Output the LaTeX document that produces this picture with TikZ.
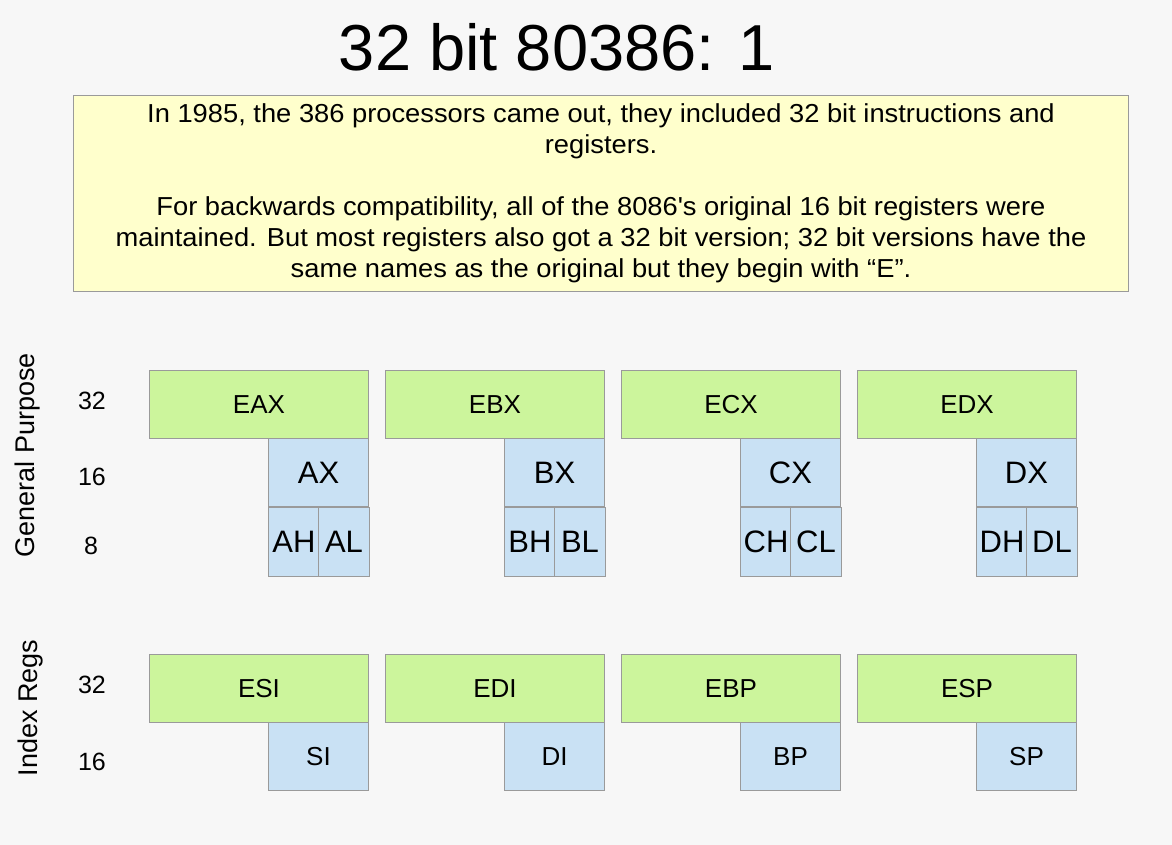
\documentclass[tikz,border=0pt]{standalone}
\usepackage{fontspec}
\setmainfont{Liberation Sans}
\newfontfamily\notefont[FakeStretch=1.05]{Liberation Sans}
\usepackage{xcolor}
\definecolor{regGreen}{HTML}{CCF59C}
\definecolor{regBlue}{HTML}{C9E1F4}
\definecolor{noteYellow}{HTML}{FFFFCC}
\definecolor{edgeGray}{HTML}{9A9A9A}
\definecolor{slideBg}{HTML}{F7F7F7}

\begin{document}
\begin{tikzpicture}[x=1pt, y=-1pt, line width=1pt,
  r32/.style = {draw=edgeGray, fill=regGreen, anchor=north west, inner sep=0pt, minimum width=219pt, minimum height=68pt, font=\fontsize{26}{30}\selectfont},
  r16/.style = {draw=edgeGray, fill=regBlue, anchor=north west, inner sep=0pt, minimum width=100pt, minimum height=68pt, font=\fontsize{31}{36}\selectfont},
  r8/.style = {r16, minimum width=51pt, minimum height=69pt},
  i16/.style = {r16, font=\fontsize{26}{30}\selectfont},
  bitlabel/.style = {font=\fontsize{25}{30}\selectfont},
  grouplabel/.style = {rotate=90, font=\fontsize{27}{30}\selectfont}]
  \useasboundingbox[fill=slideBg] (0,0) rectangle (1172,845);
  \node[font=\fontsize{65}{78}\selectfont] (title) at (557,47) {32 bit 80386: 1};
  \node[draw=edgeGray, fill=noteYellow, anchor=north west, minimum width=1055pt, minimum height=196pt, align=center, font=\notefont\fontsize{26}{31}\selectfont] (note) at (73,95)
    {In 1985, the 386 processors came out, they included 32 bit instructions and\\
     registers.\\[31pt]
     For backwards compatibility, all of the 8086\textquotesingle s original 16 bit registers were\\
     maintained. But most registers also got a 32 bit version; 32 bit versions have the\\
     same names as the original but they begin with “E”.};
  % general purpose
  \node[grouplabel] (gp) at (28,455) {General Purpose};
  \node[bitlabel] (gp32) at (92,401) {32};
  \node[bitlabel] (gp16) at (92,477) {16};
  \node[bitlabel] (gp8) at (91,546) {8};
  \node[r32] (eax) at (149,370) {EAX};
  \node[r32] (ebx) at (385,370) {EBX};
  \node[r32] (ecx) at (621,370) {ECX};
  \node[r32] (edx) at (857,370) {EDX};
  \node[r16] (ax) at (268,438) {AX};
  \node[r16] (bx) at (504,438) {BX};
  \node[r16] (cx) at (740,438) {CX};
  \node[r16] (dx) at (976,438) {DX};
  \node[r8] (ah) at (268,507) {AH};
  \node[r8] (al) at (318,507) {AL};
  \node[r8] (bh) at (504,507) {BH};
  \node[r8] (bl) at (554,507) {BL};
  \node[r8] (ch) at (740,507) {CH};
  \node[r8] (cl) at (790,507) {CL};
  \node[r8] (dh) at (976,507) {DH};
  \node[r8] (dl) at (1026,507) {DL};
  % index regs
  \node[grouplabel] (ir) at (31,708) {Index Regs};
  \node[bitlabel] (ir32) at (92,685) {32};
  \node[bitlabel] (ir16) at (92,762) {16};
  \node[r32] (esi) at (149,654) {ESI};
  \node[r32] (edi) at (385,654) {EDI};
  \node[r32] (ebp) at (621,654) {EBP};
  \node[r32] (esp) at (857,654) {ESP};
  \node[i16] (si) at (268,722) {SI};
  \node[i16] (di) at (504,722) {DI};
  \node[i16] (bp) at (740,722) {BP};
  \node[i16] (sp) at (976,722) {SP};
\end{tikzpicture}
\end{document}
